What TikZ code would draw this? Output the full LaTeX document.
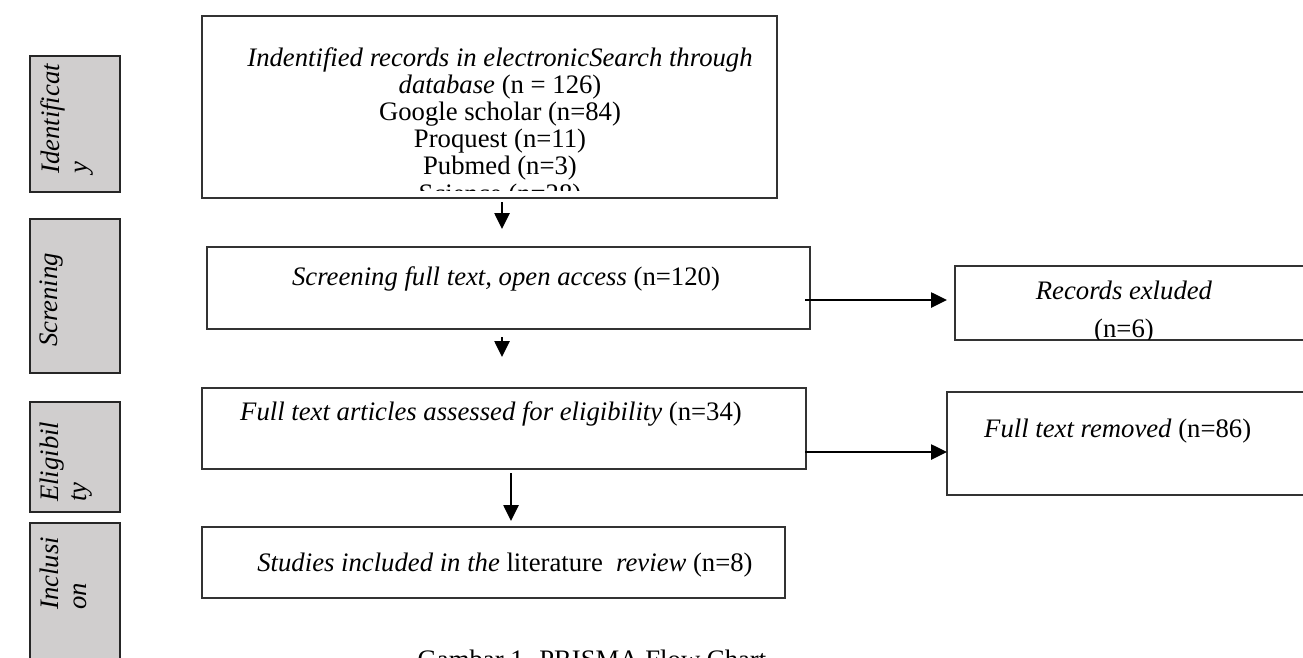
\documentclass[tikz,border=0pt]{standalone}
\usepackage{fontspec}
\setmainfont{Liberation Serif}
\usetikzlibrary{arrows.meta}
\definecolor{sidegray}{HTML}{D0CECE}
\begin{document}
\begin{tikzpicture}[x=1pt,y=-1pt,
  side/.style={draw=black!85, line width=1.4pt, fill=sidegray, inner sep=0pt},
  mainbox/.style={draw=black!80, line width=1.1pt, inner sep=0pt},
  txt/.style={inner sep=0pt, font=\fontsize{26.7}{28}\selectfont, anchor=base},
  sidetxt/.style={inner sep=0pt, font=\fontsize{26.7}{28}\selectfont\itshape, rotate=90, align=left, anchor=north west},
  flow/.style={line width=2.6pt, -{Triangle[length=16pt,width=15pt]}},
]
\useasboundingbox (0,0) rectangle (1303,657);
\clip (0,0) rectangle (1303,657);

% side stage boxes
\node[side, minimum width=90pt, minimum height=136pt] (sideI) at (75,124) {};
\node[side, minimum width=90pt, minimum height=154pt] (sideS) at (75,296) {};
\node[side, minimum width=90pt, minimum height=110pt] (sideE) at (75,457) {};
\node[side, minimum width=90pt, minimum height=157pt] (sideN) at (75,601.5) {};
\node[sidetxt] (tI) at (40,174) {Identificat\\y};
\node[sidetxt] (tS) at (40,347) {Screning};
\node[sidetxt] (tE) at (40,502) {Eligibil\\ty};
\node[sidetxt] (tN) at (40,610) {Inclusi\\on};

% main boxes
\node[mainbox, minimum width=575pt, minimum height=182pt] (ident) at (489.5,107) {};
\node[mainbox, minimum width=603pt, minimum height=82pt] (screen) at (508.5,288) {};
\node[mainbox, minimum width=365pt, minimum height=74pt] (excl) at (1137.5,303) {};
\node[mainbox, minimum width=604pt, minimum height=81pt] (elig) at (504,428.5) {};
\node[mainbox, minimum width=373pt, minimum height=103pt] (removed) at (1133.5,443.5) {};
\node[mainbox, minimum width=583pt, minimum height=71pt] (incl) at (493.5,562.5) {};

% texts of the identification box (clipped at the bottom)
\begin{scope}
\clip (202,16) rectangle (777,190);
\node[txt] (l1) at (500,66) {\textit{Indentified records in electronicSearch through}};
\node[txt] (l2) at (500,93) {\textit{database} (n = 126)};
\node[txt] (l3) at (500,120) {Google scholar (n=84)};
\node[txt] (l4) at (500,147) {Proquest (n=11)};
\node[txt] (l5) at (500,174) {Pubmed (n=3)};
\node[txt] (l6) at (500,202) {Science (n=28)};
\end{scope}

\node[txt] (screentxt) at (506,285) {\textit{Screening full text, open access} (n=120)};
\begin{scope}
\clip (955,266) rectangle (1303,339);
\node[txt] (excl1) at (1124,299) {\textit{Records exluded}};
\node[txt] (excl2) at (1124,337) {(n=6)};
\end{scope}
\node[txt] (eligtxt) at (491,420) {\textit{Full text articles assessed for eligibility} (n=34)};
\node[txt, anchor=base west] (remtxt) at (984,437) {\textit{Full text removed} (n=86)};
\node[txt] (incltxt) at (505,571) {\textit{Studies included in the} literature\ \ \textit{review} (n=8)};
\node[txt] (caption) at (592,668) {Gambar 1. PRISMA Flow Chart};

% connectors
\coordinate (a1s) at (502,202); \coordinate (a1e) at (502,229);
\coordinate (a2s) at (805,300); \coordinate (a2e) at (947,300);
\coordinate (a3s) at (502,337); \coordinate (a3e) at (502,357);
\coordinate (a4s) at (805,452); \coordinate (a4e) at (947,452);
\coordinate (a5s) at (511,473); \coordinate (a5e) at (511,521);
\draw[flow] (a1s) -- (a1e);
\draw[flow] (a2s) -- (a2e);
\draw[flow] (a3s) -- (a3e);
\draw[flow] (a4s) -- (a4e);
\draw[flow] (a5s) -- (a5e);
\end{tikzpicture}
\end{document}
